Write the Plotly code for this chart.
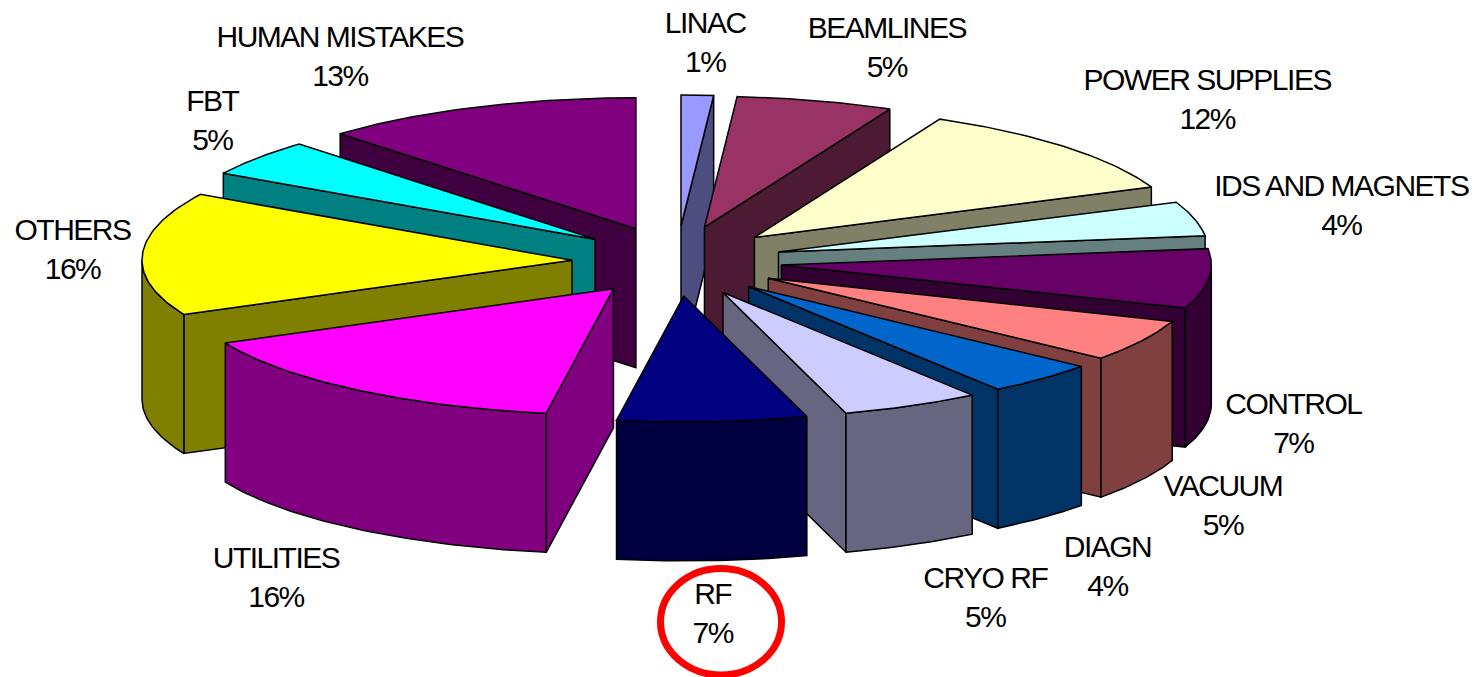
import numpy as np
import plotly.graph_objects as go

categories = ["LINAC", "BEAMLINES", "POWER SUPPLIES", "IDS AND MAGNETS", "CONTROL", "VACUUM",
              "DIAGN", "CRYO RF", "RF", "UTILITIES", "OTHERS", "FBT", "HUMAN MISTAKES"]
values = [1, 5, 12, 4, 7, 5, 4, 5, 7, 16, 16, 5, 13]
top_colors = ["#9999FF", "#993366", "#FFFFCC", "#CCFFFF", "#660066", "#FF8080",
              "#0066CC", "#CCCCFF", "#000080", "#FF00FF", "#FFFF00", "#00FFFF", "#800080"]
side_colors = ["#4D4D80", "#4D1A33", "#808066", "#668080", "#330033", "#804040",
               "#003366", "#666680", "#000040", "#800080", "#808000", "#008080", "#400040"]
label_x = [705, 887, 1207, 1341, 1293, 1223, 1107, 985, 712, 276, 72, 212, 340]
label_y = [42, 47, 99, 205, 423, 505, 566, 597, 613, 577, 249, 120, 56]

# 3D pie model
CX, CY = 677, 261      # pie centre
RX = 430               # slice radius on screen
RY_BACK, RY_FRONT = 131, 126
EX, EY = 105, 35       # explosion radius on screen
DEPTH = 139            # wall height
WARP = 4.5             # perspective warp of the angle, degrees
WARP_R, WARP_L = 4.0, 2.5


def phi(pct):
    d = np.asarray(pct, dtype=float) * 3.6
    t = np.radians(d)
    w = WARP * (1 - np.cos(t))
    w = w + np.where(d < 60, WARP_R * np.sin(3 * t), 0.0)
    w = w + np.where((d > 270) & (d < 330), -WARP_L * np.cos(3 * t), 0.0)
    return t + np.radians(w)


fig = go.Figure()


def poly(x, y, color):
    fig.add_trace(go.Scatter(x=list(x) + [x[0]], y=list(y) + [y[0]], mode="lines", fill="toself",
                             fillcolor=color, line=dict(color="#000000", width=1.5),
                             hoverinfo="skip", showlegend=False))


ends = np.cumsum(values)
starts = ends - np.array(values)
mids = (starts + ends) / 2
order = np.argsort(-np.cos(phi(mids)))

for i in order:
    m = phi(mids[i])
    ax = CX + EX * np.sin(m)
    ay = CY - EY * np.cos(m)
    p = phi(np.linspace(starts[i], ends[i], 60))
    ox = ax + RX * np.sin(p)
    oy = ay - np.where(np.cos(p) < 0, RY_FRONT, RY_BACK) * np.cos(p)
    # cut faces: only those turned towards the viewer
    if np.sin(p[0]) < -1e-9:
        poly([ax, ox[0], ox[0], ax], [ay, oy[0], oy[0] + DEPTH, ay + DEPTH], side_colors[i])
    if np.sin(p[-1]) > 1e-9:
        poly([ax, ox[-1], ox[-1], ax], [ay, oy[-1], oy[-1] + DEPTH, ay + DEPTH], side_colors[i])
    # outer wall (front part only)
    front = np.cos(p) < 0
    if front.any():
        fx, fy = ox[front], oy[front]
        poly(list(fx) + list(fx[::-1]), list(fy) + list(fy[::-1] + DEPTH), side_colors[i])
    # top
    poly([ax] + list(ox), [ay] + list(oy), top_colors[i])

for c, v, x, y in zip(categories, values, label_x, label_y):
    fig.add_annotation(x=x, y=y, text=f"{c}<br>{v}%", showarrow=False, xanchor="center", yanchor="middle",
                       font=dict(family="Liberation Sans", size=30, color="#000000"), align="center")

fig.add_shape(type="circle", x0=660.5, x1=781.5, y0=568.5, y1=675, line=dict(color="#FF0000", width=7))

fig.update_xaxes(range=[0, 1478], visible=False, fixedrange=True)
fig.update_yaxes(range=[677, 0], visible=False, fixedrange=True)
fig.update_layout(width=1478, height=677, margin=dict(l=0, r=0, t=0, b=0),
                  paper_bgcolor="white", plot_bgcolor="white", showlegend=False)
post = ("document.body.style.margin='0';document.body.style.overflow='hidden';"
        "document.querySelectorAll('.annotation-text').forEach(function(e){e.style.letterSpacing='-1.5px';});")
fig.write_html("out.html", config=dict(displayModeBar=False), post_script=post)
